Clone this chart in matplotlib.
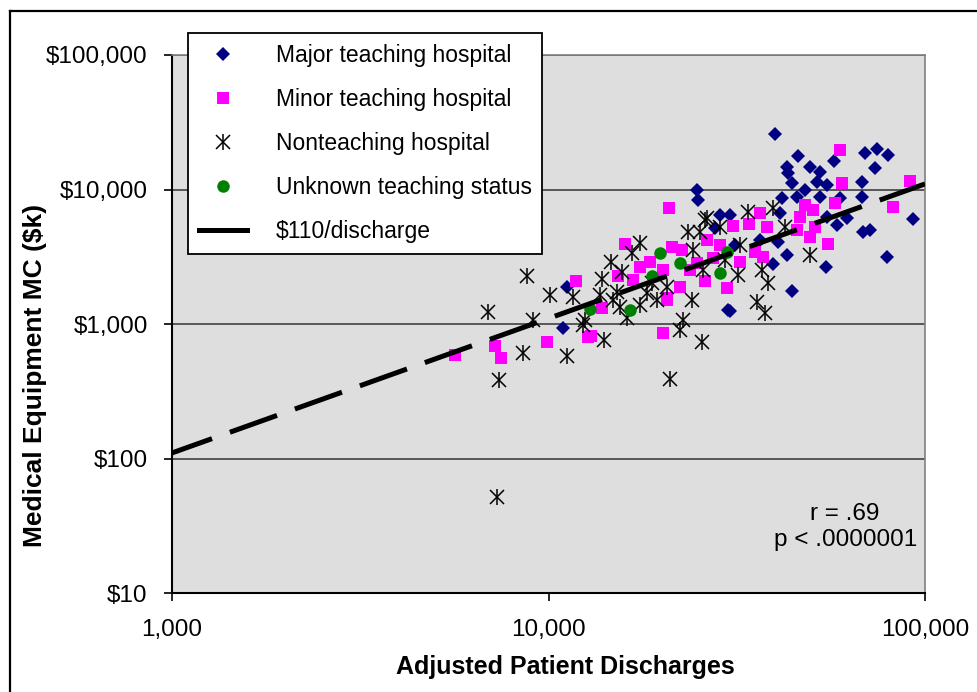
import numpy as np
import matplotlib.pyplot as plt
from matplotlib.lines import Line2D
from matplotlib.ticker import FuncFormatter

plt.rcParams['font.family'] = ['Liberation Sans', 'DejaVu Sans']

# adjusted patient discharges / medical equipment MC ($k)
major_x = [11200, 10900, 24800, 25000, 28500, 30000, 40000, 46000, 57300, 69300,
           74600, 79800, 73700, 43000, 43300, 49500, 52600, 51700, 44300, 54900,
           68000, 41700, 45700, 52600, 59500, 68000, 92900, 30400, 41200, 54900,
           62100, 58400, 68500, 71400, 40700, 36500, 43000, 39500, 54600, 79300,
           44300, 30400, 48000, 27700, 31200]
major_y = [1880, 930, 9900, 8350, 6450, 1270, 25900, 17800, 16300, 18700,
           20000, 18000, 14400, 14700, 13300, 14700, 13500, 11400, 11200, 10800,
           11400, 8650, 8800, 8800, 8650, 8800, 6050, 6450, 6700, 6250,
           6150, 5450, 4850, 5000, 4050, 4200, 3250, 2800, 2650, 3150,
           1750, 1250, 9900, 5150, 3850]

minor_x = [5650, 7200, 7500, 9900, 11800, 12700, 20900, 16000, 21300, 17500,
           15300, 13900, 20100, 13000, 20600, 26400, 28500, 22600, 24800, 27300,
           20100, 16800, 22300, 29800, 20600, 59500, 60200, 91200, 57700, 48000,
           50400, 82200, 36500, 46600, 30900, 34100, 38000, 45700, 51000, 49500,
           55300, 35400, 37100, 18600, 23800, 26000, 32300]
minor_y = [590, 690, 560, 735, 2090, 800, 7300, 3950, 3750, 2650,
           2270, 1320, 860, 815, 1510, 4200, 3850, 3550, 2850, 3100,
           2500, 2120, 1880, 1850, 1560, 19700, 11200, 11600, 7950, 7650,
           7050, 7400, 6700, 6250, 5350, 5550, 5250, 5000, 5250, 4450,
           3950, 3450, 3150, 2900, 2500, 2100, 2900]

non_x = [7300, 7400, 6900, 8770, 8560, 10100, 11600, 9100, 11200, 12350,
         17500, 16700, 13900, 15700, 14800, 22300, 21000, 14000, 12500, 16200,
         19400, 26400, 25300, 28500, 24200, 25700, 13700, 15200, 18300, 24000,
         17500, 15500, 22800, 25600, 33900, 39500, 42500, 49500, 36900, 38300,
         31900, 35800, 37600, 20600, 26000, 18800, 14700, 32300, 29400, 23500]
non_y = [52, 385, 1230, 2270, 610, 1640, 1590, 1070, 580, 985,
         4000, 3370, 2160, 2430, 1510, 900, 390, 760, 1070, 1110,
         1510, 6150, 4850, 5250, 3550, 2500, 1640, 1730, 1700, 1510,
         1380, 1340, 1070, 735, 6800, 7300, 5250, 3250, 2500, 2020,
         2300, 1460, 1210, 1880, 5950, 2020, 2900, 3850, 3000, 4850]

unknown_x = [12900, 19800, 22300, 18800, 16500, 29800, 28500]
unknown_y = [1290, 3370, 2840, 2270, 1270, 3430, 2390]

labels = ['Major teaching hospital', 'Minor teaching hospital', 'Nonteaching hospital',
          'Unknown teaching status', '$110/discharge']
cost_per_discharge = 0.110  # $k per discharge
line_x = np.array([1000, 100000])

fig = plt.figure(figsize=(9.78, 6.92), dpi=100)
ax = fig.add_axes([172/978, 99/692, 753/978, 538/692])
ax.set_xscale('log')
ax.set_yscale('log')
ax.set_facecolor('#dedede')

ax.plot(major_x, major_y, ls='none', marker='D', ms=6.7, mew=0, color='#000080', zorder=3)
ax.plot(minor_x, minor_y, ls='none', marker='s', ms=8.5, mew=0, color='#ff00ff', zorder=3)
ax.plot(non_x, non_y, ls='none', marker='x', ms=9.5, mew=1.1, color='black', zorder=3)
ax.plot(non_x, non_y, ls='none', marker='|', ms=12, mew=1.1, color='black', zorder=3)
ax.plot(unknown_x, unknown_y, ls='none', marker='o', ms=9, mew=0, color='#008000', zorder=3)
ax.plot(line_x, cost_per_discharge * line_x, color='black', lw=3.6,
        ls=(1.5, (10, 3.8)), zorder=4)

ax.set_xlim(1000, 100000)
ax.set_ylim(10, 100000)
ax.minorticks_off()
ax.set_xticks([1000, 10000, 100000])
ax.set_yticks([10, 100, 1000, 10000, 100000])
ax.xaxis.set_major_formatter(FuncFormatter(lambda v, p: '{:,.0f}'.format(v)))
ax.yaxis.set_major_formatter(FuncFormatter(lambda v, p: '${:,.0f}'.format(v)))
ax.tick_params(axis='both', direction='out', length=5.5, width=1.2, labelsize=17.5)
ax.tick_params(axis='y', pad=12)
ax.tick_params(axis='x', pad=13)
ax.yaxis.grid(True, color='#333333', lw=1.1)
ax.set_axisbelow(True)
for s in ['left', 'bottom']:
    ax.spines[s].set_linewidth(1.5)
for s in ['top', 'right']:
    ax.spines[s].set_color('#808080')
    ax.spines[s].set_linewidth(1.2)

ax.set_xlabel('Adjusted Patient Discharges', fontsize=18, fontweight='bold')
ax.xaxis.set_label_coords(0.522, -0.115)
ax.set_ylabel('Medical Equipment MC ($k)', fontsize=19, fontweight='bold')
ax.yaxis.set_label_coords(-0.166, 0.405)

ax.text(0.894, 0.122, 'r = .69\np < .0000001', transform=ax.transAxes, ha='center',
        va='center', multialignment='center', fontsize=17.5, linespacing=1.25)

handles = [
    Line2D([], [], ls='none', marker='D', ms=6.7, mew=0, color='#000080'),
    Line2D([], [], ls='none', marker='s', ms=8.5, mew=0, color='#ff00ff'),
    (Line2D([], [], ls='none', marker='x', ms=9.5, mew=1.1, color='black'),
     Line2D([], [], ls='none', marker='|', ms=12, mew=1.1, color='black')),
    Line2D([], [], ls='none', marker='o', ms=9, mew=0, color='#008000'),
    Line2D([], [], color='black', lw=3.6),
]
leg = ax.legend(handles, labels, loc='upper left', bbox_to_anchor=(188/978, 1 - 33/692),
                bbox_transform=fig.transFigure, fontsize=16.5, fancybox=False,
                edgecolor='black', framealpha=1, borderaxespad=0, handlelength=2.1,
                handletextpad=1.25, labelspacing=0.92, borderpad=0.47, numpoints=1)
leg.get_frame().set_linewidth(1.3)
leg.set_zorder(5)

# outer frame (cut off at right and bottom)
fig.add_artist(Line2D([10/978, 10/978], [0, 1 - 11/692], transform=fig.transFigure,
                      color='black', lw=1.6))
fig.add_artist(Line2D([10/978, 1], [1 - 11/692, 1 - 11/692], transform=fig.transFigure,
                      color='black', lw=1.6))

fig.savefig('out.png', dpi=100)
